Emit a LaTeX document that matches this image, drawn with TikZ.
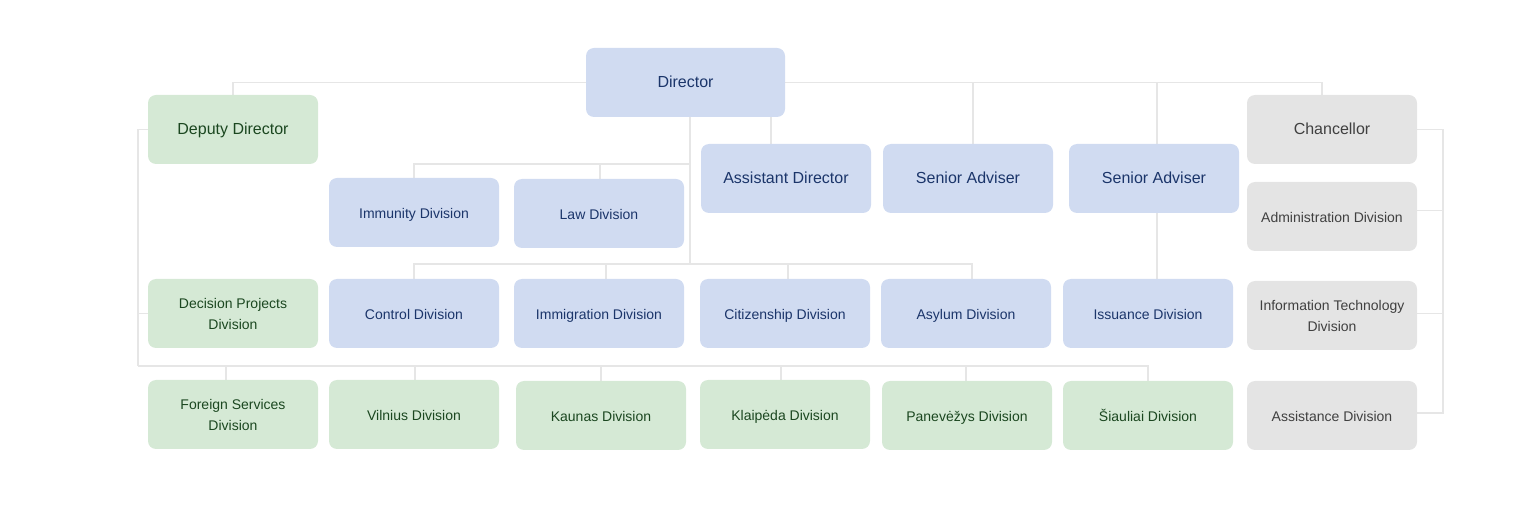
\documentclass[tikz,border=0pt]{standalone}
\usepackage{fontspec}
\setmainfont{Liberation Sans}
\usetikzlibrary{backgrounds}

\definecolor{bluefill}{HTML}{D0DBF1}
\definecolor{bluetext}{HTML}{1B356A}
\definecolor{greenfill}{HTML}{D5E9D5}
\definecolor{greentext}{HTML}{1B4720}
\definecolor{greyfill}{HTML}{E4E4E4}
\definecolor{greytext}{HTML}{404040}
\definecolor{linkgrey}{HTML}{E6E6E6}

\begin{document}
\begin{tikzpicture}[x=1pt, y=-1pt,
    twoline/.style={rounded corners=8pt, minimum width=170pt, minimum height=69pt,
        inner sep=0pt, align=center, font=\fontsize{14}{21}\selectfont},
    box/.style={twoline, text height=12pt, text depth=0pt},
    bigbox/.style={twoline, font=\fontsize{16}{19}\selectfont,
        text height=11pt, text depth=1pt},
    bluebox/.style={fill=bluefill, text=bluetext},
    greenbox/.style={fill=greenfill, text=greentext},
    greybox/.style={fill=greyfill, text=greytext},
    link/.style={draw=linkgrey, line width=1.3pt}]

\useasboundingbox (0,0) rectangle (1535,518);

% Top level
\node[bigbox, bluebox, minimum width=199pt] (dir) at (685.5,82.5) {Director};
\node[bigbox, greenbox] (dep) at (233,129.5) {Deputy Director};
\node[bigbox, greybox] (chan) at (1332,129.5) {Chancellor};

% Second level
\node[bigbox, bluebox] (asst) at (786,178.5) {Assistant Director};
\node[bigbox, bluebox] (sad1) at (968,178.5) {Senior Adviser};
\node[bigbox, bluebox] (sad2) at (1154,178.5) {Senior Adviser};
\node[box, bluebox] (immu) at (414,212.5) {Immunity Division};
\node[box, bluebox] (law) at (599,213.5) {Law Division};
\node[box, greybox] (admi) at (1332,216.5) {Administration Division};

% Divisions
\node[twoline, greenbox] (dec) at (233,313.5) {Decision Projects\\Division};
\node[box, bluebox] (ctrl) at (414,313.5) {Control Division};
\node[box, bluebox] (immi) at (599,313.5) {Immigration Division};
\node[box, bluebox] (citz) at (785,313.5) {Citizenship Division};
\node[box, bluebox] (asyl) at (966,313.5) {Asylum Division};
\node[box, bluebox] (issu) at (1148,313.5) {Issuance Division};
\node[twoline, greybox] (itdv) at (1332,315.5) {Information Technology\\Division};

% Regional divisions
\node[twoline, greenbox] (fore) at (233,414.5) {Foreign Services\\Division};
\node[box, greenbox] (viln) at (414,414.5) {Vilnius Division};
\node[box, greenbox] (kaun) at (601,415.5) {Kaunas Division};
\node[box, greenbox] (klai) at (785,414.5) {Klaipėda Division};
\node[box, greenbox] (pane) at (967,415.5) {Panevėžys Division};
\node[box, greenbox] (siau) at (1148,415.5) {Šiauliai Division};
\node[box, greybox] (assi) at (1332,415.5) {Assistance Division};

\begin{scope}[on background layer]
% Director bus
\draw[link] (dir.west) -| (dep.north);
\draw[link] (dir.east) -| ([xshift=-10]chan.north);
\foreach \n/\s in {sad1/5, sad2/3}
    \draw[link] ([xshift=\s]\n.north) -- ([xshift=\s]\n.north |- dir.east);
\draw[link] ([xshift=-15]asst.north) -- ([xshift=-15]asst.north |- dir.south);

% Director spine
\coordinate (spine1) at (690,164);
\coordinate (spine2) at (690,264);
\draw[link] (spine2) -- (spine2 |- dir.south);
\draw[link] (spine1) -| (immu.north);
\draw[link] ([xshift=1]law.north) -- ([xshift=1]law.north |- spine1);
\draw[link] (spine2) -| (ctrl.north);
\draw[link] (spine2) -| ([xshift=6]asyl.north);
\foreach \n/\s in {immi/7, citz/3}
    \draw[link] ([xshift=\s]\n.north) -- ([xshift=\s]\n.north |- spine2);
\draw[link] ([xshift=3]sad2.south) -- ([xshift=3]sad2.south |- issu.north);

% Deputy rail
\coordinate (rail1) at (138,366);
\draw[link] (dep.west) -| (rail1);
\draw[link] (dec.west) -- (dec.west -| rail1);
\draw[link] (rail1) -| (siau.north);
\foreach \n/\s in {fore/-7, viln/1, kaun/0, klai/-4, pane/-1}
    \draw[link] ([xshift=\s]\n.north) -- ([xshift=\s]\n.north |- rail1);

% Chancellor rail
\coordinate (rail2) at (1443,413);
\draw[link] (chan.east) -| (rail2) -- (rail2 -| assi.east);
\foreach \n/\s in {admi/6, itdv/2}
    \draw[link] ([yshift=\s]\n.east) -- ([yshift=\s]\n.east -| rail2);
\end{scope}

\end{tikzpicture}
\end{document}
